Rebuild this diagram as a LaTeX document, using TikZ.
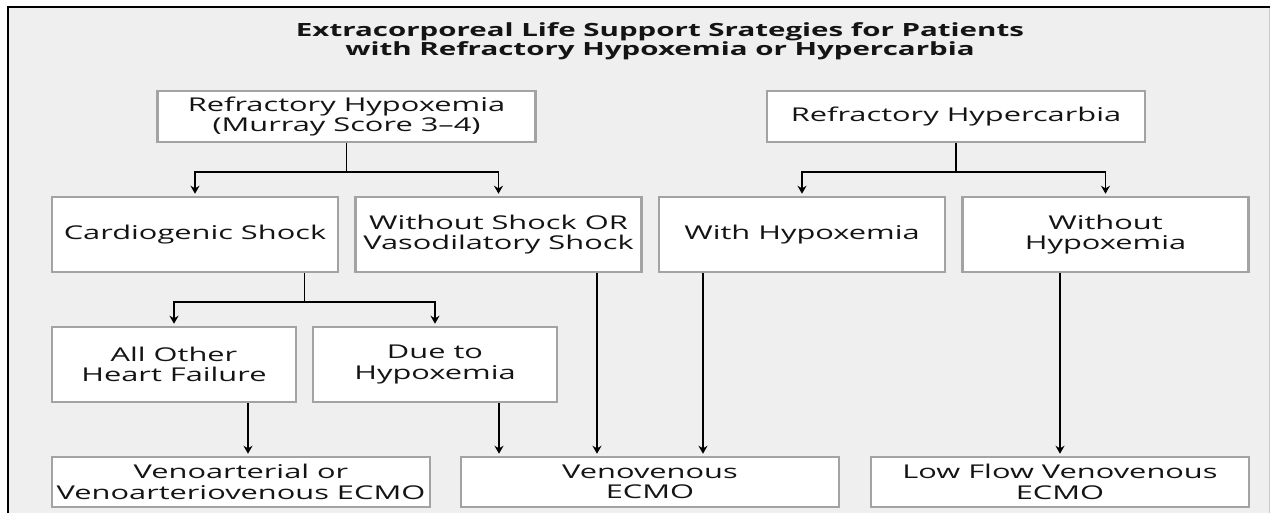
\documentclass[tikz,border=0pt]{standalone}
\usepackage{fontspec}
\setmainfont{Open Sans}[FakeStretch=1.62]
\usetikzlibrary{arrows.meta,positioning,calc}
\definecolor{panelgray}{RGB}{239,239,239}
\definecolor{boxgray}{RGB}{163,163,163}
\definecolor{inkgray}{RGB}{20,20,20}

\begin{document}
\begin{tikzpicture}[
    x=1pt, y=-1pt,
    box/.style={draw=boxgray, line width=2.5pt, fill=white, align=center, inner sep=0pt, text=inkgray, font=\fontsize{19}{20.5}\selectfont},
    arr/.style={-{Stealth[length=8pt,width=9pt]}, line width=1.8pt, shorten >=2pt}
]
\useasboundingbox (0,0) rectangle (1270,512);
% panel
\fill[panelgray] (8,7) rectangle (1269,514);
\draw[boxgray!60, line width=1pt] (1269,7) -- (1269,514);
\draw[line width=2pt] (8,514) -- (8,7) -- (1270,7);

\node[align=center, text=inkgray, font=\bfseries\fontsize{18.2}{18.8}\selectfont] (title) at (660,41)
    {Extracorporeal Life Support Srategies for Patients\\with Refractory Hypoxemia or Hypercarbia};

% top row
\node[box, minimum width=378pt, minimum height=51pt] (hypox) at (346.5,116.5) {Refractory Hypoxemia\\(Murray Score 3--4)};
\node[box, minimum width=378pt, minimum height=51pt] (hypercarb) at (956,116.5) {Refractory Hypercarbia};

% second row
\node[box, minimum width=286pt, minimum height=75pt] (cardio) at (195,234.5) {Cardiogenic Shock};
\node[box, minimum width=286pt, minimum height=75pt] (noshock) at (498.5,234.5) {Without Shock OR\\Vasodilatory Shock};
\node[box, minimum width=286pt, minimum height=75pt] (withhyp) at (802,234.5) {With Hypoxemia};
\node[box, minimum width=286pt, minimum height=75pt] (withouthyp) at (1105.5,234.5) {Without\\Hypoxemia};

% third row
\node[box, minimum width=244pt, minimum height=75pt] (otherhf) at (174,364.5) {All Other\\Heart Failure};
\node[box, minimum width=244pt, minimum height=75pt] (duehyp) at (435,364.5) {Due to\\Hypoxemia};

% ECMO row
\node[box, minimum width=378pt, minimum height=50pt] (vaecmo) at (241,482) {Venoarterial or\\Venoarteriovenous ECMO};
\node[box, minimum width=378pt, minimum height=50pt] (vvecmo) at (650,482) {Venovenous\\ECMO};
\node[box, minimum width=378pt, minimum height=50pt] (lfecmo) at (1060,482) {Low Flow Venovenous\\ECMO};

% forks
\draw[arr] (hypox.south) -- ++(0,29) -| (cardio.north);
\draw[arr] (hypox.south) -- ++(0,29) -| (noshock.north);
\draw[arr] (hypercarb.south) -- ++(0,29) -| (withhyp.north);
\draw[arr] (hypercarb.south) -- ++(0,29) -| (withouthyp.north);

\coordinate (fork) at ($(otherhf.north)!0.5!(duehyp.north)$);
\draw[arr] (cardio.south -| fork) -- ++(0,29) -| (otherhf.north);
\draw[arr] (cardio.south -| fork) -- ++(0,29) -| (duehyp.north);

% down to ECMO
\draw[arr] ([xshift=74pt]otherhf.south) -- ([xshift=74pt]otherhf.south |- vaecmo.north);
\draw[arr] ([xshift=64pt]duehyp.south) -- ([xshift=64pt]duehyp.south |- vvecmo.north);
\draw[arr] ([xshift=98.5pt]noshock.south) -- ([xshift=98.5pt]noshock.south |- vvecmo.north);
\draw[arr] ([xshift=-99pt]withhyp.south) -- ([xshift=-99pt]withhyp.south |- vvecmo.north);
\draw[arr] (withouthyp.south -| lfecmo.north) -- (lfecmo.north);
\end{tikzpicture}
\end{document}
